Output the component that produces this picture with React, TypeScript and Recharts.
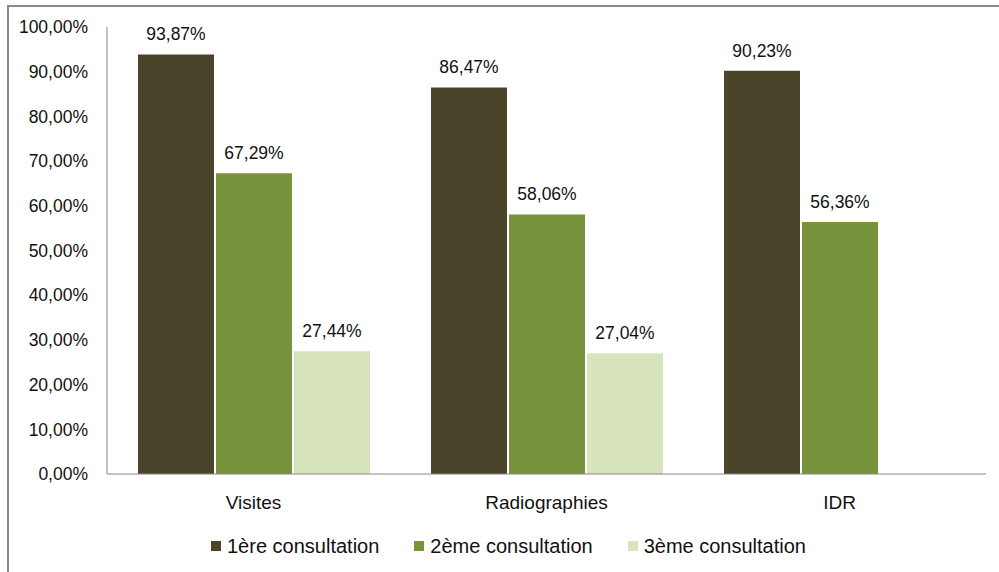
import { Bar, BarChart, LabelList, XAxis, YAxis } from "recharts";

const categories = ["Visites", "Radiographies", "IDR"];
const premiere = [93.87, 86.47, 90.23];
const deuxieme = [67.29, 58.06, 56.36];
const troisieme = [27.44, 27.04, null];
const yTicks = [0, 10, 20, 30, 40, 50, 60, 70, 80, 90, 100];

const series = [
  { key: "c1", name: "1ère consultation", color: "#4A452A" },
  { key: "c2", name: "2ème consultation", color: "#77933C" },
  { key: "c3", name: "3ème consultation", color: "#D7E4BD" },
];

const data = categories.map((name, i) => ({
  name,
  c1: premiere[i],
  c2: deuxieme[i],
  c3: troisieme[i],
}));

const FONT = "'Liberation Sans', Arial, sans-serif";
const fmt = (v: any) =>
  v === null || v === undefined ? "" : `${Number(v).toFixed(2).replace(".", ",")}%`;

function LegendBox() {
  return (
    <div
      style={{
        position: "absolute",
        left: 0,
        top: 533,
        width: 999,
        height: 26,
        display: "flex",
        justifyContent: "center",
        alignItems: "center",
        fontFamily: FONT,
        fontSize: 20,
        color: "#111",
        paddingLeft: 18,
        boxSizing: "border-box",
      }}
    >
      {series.map((s, i) => (
        <div
          key={s.key}
          style={{ display: "flex", alignItems: "center", marginRight: i < series.length - 1 ? 35 : 0 }}
        >
          <span
            style={{ width: 10, height: 10, background: s.color, display: "inline-block", marginRight: 6 }}
          />
          <span>{s.name}</span>
        </div>
      ))}
    </div>
  );
}

export default function App() {
  return (
    <div style={{ position: "absolute", left: 0, top: 0, width: 999, height: 572, background: "#fff", overflow: "hidden" }}>
      <div
        style={{
          position: "absolute",
          left: 7,
          top: 5,
          width: 1000,
          height: 600,
          borderLeft: "2px solid #8a8a8a",
          borderTop: "2px solid #8a8a8a",
        }}
      />
      <BarChart
        width={999}
        height={572}
        data={data}
        margin={{ top: 27, right: 13, bottom: 68, left: 8 }}
        barCategoryGap={31}
        barGap={2}
        style={{ position: "absolute", left: 0, top: 0 }}
      >
        <XAxis
          dataKey="name"
          height={30}
          stroke="#868686"
          tickLine={false}
          tickSize={0}
          tickMargin={22}
          tick={{ fill: "#111", fontSize: 19, fontFamily: FONT }}
        />
        <YAxis
          width={99}
          domain={[0, 100]}
          ticks={yTicks}
          stroke="#868686"
          tickLine={false}
          tickSize={0}
          tickMargin={19}
          tickFormatter={fmt}
          tick={{ fill: "#111", fontSize: 17.5, fontFamily: FONT }}
        />
        {series.map((s) => (
          <Bar key={s.key} dataKey={s.key} name={s.name} fill={s.color} isAnimationActive={false}>
            <LabelList
              dataKey={s.key}
              position="top"
              offset={14}
              formatter={fmt}
              style={{ fill: "#111", fontSize: 17.5, fontFamily: FONT }}
            />
          </Bar>
        ))}
      </BarChart>
      <LegendBox />
    </div>
  );
}
